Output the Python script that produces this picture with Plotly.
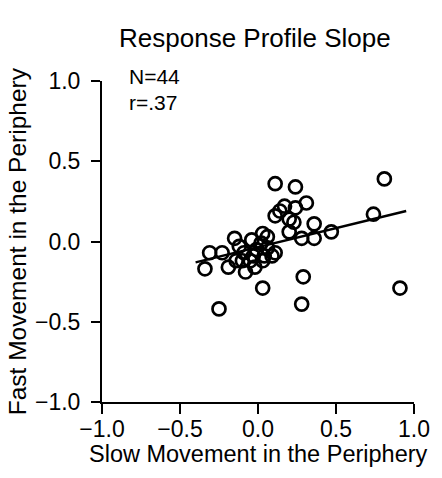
import plotly.graph_objects as go

# Data (Slow vs Fast movement slopes)
slow_x = [0.11, 0.24, 0.81, 0.17, 0.31, 0.24, 0.11, 0.20, 0.36, 0.20,
          0.28, 0.36, 0.47, 0.74, 0.03, -0.04, -0.15, -0.31, -0.23, -0.34,
          -0.19, -0.10, -0.08, -0.02, 0.03, -0.01, 0.06, 0.11, 0.03, 0.29,
          0.28, 0.91, -0.25, -0.05, 0.09, -0.09, -0.14, 0.06, 0.02, 0.04,
          -0.12, 0.14, 0.23, -0.03]
fast_y = [0.36, 0.34, 0.39, 0.22, 0.24, 0.21, 0.16, 0.14, 0.11, 0.06,
          0.02, 0.02, 0.06, 0.17, 0.05, 0.01, 0.02, -0.07, -0.07, -0.17,
          -0.16, -0.12, -0.19, -0.16, -0.12, -0.05, -0.04, -0.07, -0.29, -0.22,
          -0.39, -0.29, -0.42, -0.12, -0.09, -0.07, -0.12, 0.03, -0.01, -0.09,
          -0.03, 0.19, 0.12, -0.09]

fit_x = [-0.40, 0.95]
fit_y = [-0.13, 0.19]

tick_vals = [-1.0, -0.5, 0.0, 0.5, 1.0]
tick_text = ["\u22121.0", "\u22120.5", "0.0", "0.5", "1.0"]

FONT = "Liberation Sans, Arial, Helvetica, sans-serif"

fig = go.Figure()
fig.add_trace(go.Scatter(
    x=fit_x, y=fit_y, mode="lines",
    line=dict(color="black", width=2.5), showlegend=False, hoverinfo="skip"))
fig.add_trace(go.Scatter(
    x=slow_x, y=fast_y, mode="markers",
    marker=dict(symbol="circle-open", size=13, color="black",
                line=dict(width=2.7, color="black")),
    showlegend=False))

axis_common = dict(
    range=[-1.0, 1.0], tickvals=tick_vals, ticktext=tick_text,
    showgrid=False, zeroline=False, showline=True, linecolor="black",
    linewidth=2, ticks="outside", ticklen=9, tickwidth=2, tickcolor="black",
    tickfont=dict(family=FONT, size=23, color="black"), mirror=False)

fig.update_layout(
    width=442, height=478,
    margin=dict(l=102, r=20, t=81, b=76),
    paper_bgcolor="white", plot_bgcolor="white",
    font=dict(family=FONT, color="black"),
    title=dict(text="Response Profile Slope", x=0.49, xref="paper",
               xanchor="center", y=1 - 38 / 478, yref="container",
               yanchor="middle", font=dict(family=FONT, size=26, color="black")),
    xaxis=dict(axis_common, ticklen=10, ticklabelstandoff=-5),
    yaxis=dict(axis_common, ticklabelstandoff=6),
    annotations=[
        dict(text="Slow Movement in the Periphery", x=0.5, y=-0.162,
             xref="paper", yref="paper", xanchor="center", yanchor="middle",
             showarrow=False, font=dict(family=FONT, size=23.5, color="black")),
        dict(text="Fast Movement in the Periphery", x=-0.27, y=0.5,
             xref="paper", yref="paper", xanchor="center", yanchor="middle",
             textangle=-90, showarrow=False,
             font=dict(family=FONT, size=24.5, color="black")),
        dict(text="N=44", x=0.081, y=1.0125, xref="paper", yref="paper",
             xanchor="left", yanchor="middle", showarrow=False,
             font=dict(family=FONT, size=21, color="black")),
        dict(text="r=.37", x=0.081, y=0.934, xref="paper", yref="paper",
             xanchor="left", yanchor="middle", showarrow=False,
             font=dict(family=FONT, size=21, color="black")),
    ],
)

fig.write_html("out.html")
